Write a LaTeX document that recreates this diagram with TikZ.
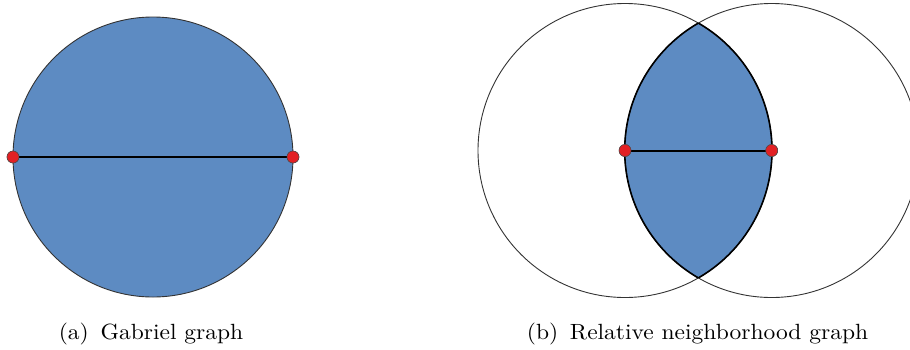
\documentclass[tikz,border=0pt]{standalone}
\definecolor{regionblue}{RGB}{93,139,194}
\definecolor{dotred}{RGB}{226,32,36}
\tikzset{
  pt/.style={circle, fill=dotred, draw=black!70, line width=0.5pt, inner sep=0pt, minimum size=12pt},
  edgeline/.style={line width=2pt, black},
  thincircle/.style={draw=black!80, line width=0.9pt},
  lensborder/.style={draw=black, line width=1.6pt},
  caption/.style={anchor=base, inner sep=0pt, xscale=2.35, yscale=2.2, font=\fontsize{10}{12}\selectfont}
}
\begin{document}
\begin{tikzpicture}[x=1pt,y=-1pt]
\clip (0,0) rectangle (910,349);
% (a) Gabriel graph
\fill[regionblue] (153,157) circle (140pt);
\draw[thincircle] (153,157) circle (140pt);
\node[pt] (a1) at (13,157) {};
\node[pt] (a2) at (293,157) {};
\draw[edgeline] (a1.center) -- (a2.center);
\node[pt] at (a1) {};
\node[pt] at (a2) {};
\node[caption] (capa) at (151,339) {(a)\enspace Gabriel graph};
% (b) Relative neighborhood graph
\coordinate (c1) at (625,150.5);
\coordinate (c2) at (771.7,150.5);
\begin{scope}
  \clip (c1) circle (147pt);
  \fill[regionblue] (c2) circle (147pt);
\end{scope}
\draw[thincircle] (c1) circle (147pt);
\draw[thincircle] (c2) circle (147pt);
\begin{scope}
  \clip (c1) circle (147pt);
  \draw[lensborder] (c2) circle (147pt);
\end{scope}
\begin{scope}
  \clip (c2) circle (147pt);
  \draw[lensborder] (c1) circle (147pt);
\end{scope}
\node[pt] (b1) at (c1) {};
\node[pt] (b2) at (c2) {};
\draw[edgeline] (b1.center) -- (b2.center);
\node[pt] at (b1) {};
\node[pt] at (b2) {};
\node[caption] (capb) at (697.5,339) {(b)\enspace Relative neighborhood graph};
\end{tikzpicture}
\end{document}
